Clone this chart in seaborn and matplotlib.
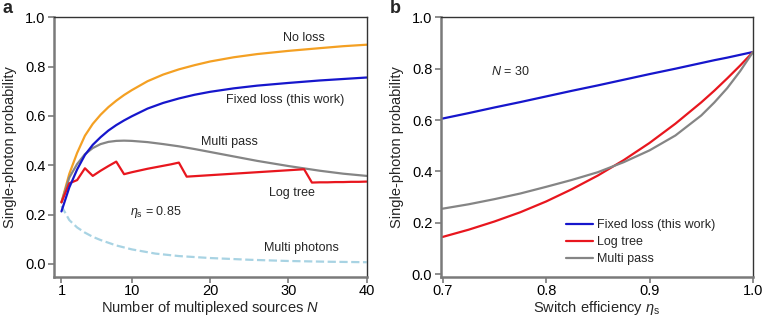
import numpy as np
import pandas as pd
import matplotlib
matplotlib.use("Agg")
import matplotlib.pyplot as plt
import seaborn as sns

# ---------------- data: panel a ----------------
N_smooth = [1, 2, 3, 4, 5, 6, 7, 8, 9, 10, 12, 14, 16, 18, 20, 23, 26, 30, 34, 37, 40]
no_loss = [0.25, 0.365, 0.45, 0.52, 0.568, 0.605, 0.636, 0.662, 0.685, 0.705, 0.741,
           0.768, 0.789, 0.806, 0.821, 0.838, 0.851, 0.864, 0.875, 0.883, 0.889]
fixed_loss = [0.213, 0.31, 0.383, 0.442, 0.483, 0.514, 0.541, 0.563, 0.582, 0.599, 0.63,
              0.653, 0.671, 0.686, 0.698, 0.712, 0.723, 0.734, 0.744, 0.75, 0.756]
multi_pass = [0.25, 0.35, 0.405, 0.445, 0.47, 0.486, 0.495, 0.499, 0.50, 0.499, 0.494,
              0.486, 0.477, 0.466, 0.454, 0.436, 0.418, 0.397, 0.378, 0.366, 0.357]

N_tree = list(range(1, 41))
log_tree = [0.25, 0.327, 0.34, 0.388, 0.357, 0.378, 0.397, 0.415, 0.364, 0.372,
            0.379, 0.386, 0.392, 0.398, 0.404, 0.411, 0.354, 0.356, 0.358, 0.36,
            0.362, 0.364, 0.366, 0.368, 0.37, 0.372, 0.374, 0.376, 0.378, 0.38,
            0.382, 0.384, 0.330, 0.331, 0.331, 0.332, 0.332, 0.333, 0.333, 0.334]

N_multi = [1, 2, 3, 4, 5, 6, 8, 10, 13, 16, 20, 25, 30, 35, 40]
multi_photons = [0.235, 0.178, 0.148, 0.127, 0.11, 0.097, 0.075, 0.059, 0.042, 0.032,
                 0.024, 0.017, 0.012, 0.009, 0.007]

# ---------------- data: panel b ----------------
eta = [0.70, 0.725, 0.75, 0.775, 0.80, 0.825, 0.85, 0.875, 0.90, 0.925, 0.95, 0.9625,
       0.975, 0.9875, 1.0]
b_fixed = [0.606, 0.627, 0.649, 0.670, 0.692, 0.714, 0.735, 0.757, 0.779, 0.800, 0.822,
           0.833, 0.843, 0.854, 0.865]
b_logtree = [0.145, 0.173, 0.205, 0.241, 0.283, 0.331, 0.384, 0.444, 0.511, 0.586, 0.669,
             0.714, 0.762, 0.812, 0.865]
b_multipass = [0.255, 0.272, 0.292, 0.314, 0.34, 0.367, 0.397, 0.436, 0.482, 0.54, 0.618,
               0.668, 0.724, 0.79, 0.865]

x_ticks_a = [1, 10, 20, 30, 40]
y_ticks = [0.0, 0.2, 0.4, 0.6, 0.8, 1.0]
x_ticks_b = [0.7, 0.8, 0.9, 1.0]

# ---------------- style ----------------
sns.set_style("white")
plt.rcParams['font.family'] = ['Liberation Sans', 'DejaVu Sans']
plt.rcParams['mathtext.fontset'] = 'custom'
plt.rcParams['mathtext.rm'] = 'Liberation Sans'
plt.rcParams['mathtext.it'] = 'Liberation Sans:italic'

C_ORANGE = '#F4A023'
C_BLUE = '#1616CC'
C_RED = '#E8161E'
C_GRAY = '#858585'
C_LBLUE = '#A8D3E3'
SPINE_GRAY = '#7a7a7a'
LW = 1.6

fig = plt.figure(figsize=(7.64, 3.21), dpi=100)
axa = fig.add_axes([0.0707, 0.137, 0.4093, 0.809])
axb = fig.add_axes([0.5768, 0.138, 0.4088, 0.808])


def style_axes(ax):
    for s in ['left', 'bottom']:
        ax.spines[s].set_color(SPINE_GRAY)
        ax.spines[s].set_linewidth(1.8)
    for s in ['top', 'right']:
        ax.spines[s].set_color('#333333')
        ax.spines[s].set_linewidth(1.0)
    ax.tick_params(axis='both', which='both', direction='out', length=4, width=1.2,
                   color=SPINE_GRAY, labelcolor='black', labelsize=10.5, pad=2,
                   bottom=True, left=True, top=False, right=False)
    ax.tick_params(axis='x', pad=1)
    ax.set_yticks(y_ticks)
    ax.set_yticklabels([f"{v:.1f}" for v in y_ticks])


# ---------------- panel a ----------------
df_smooth = pd.DataFrame({'N': N_smooth, 'no': no_loss, 'fixed': fixed_loss, 'mp': multi_pass})
df_tree = pd.DataFrame({'N': N_tree, 'tree': log_tree})
df_multi = pd.DataFrame({'N': N_multi, 'multi': multi_photons})

sns.lineplot(data=df_multi, x='N', y='multi', ax=axa, color=C_LBLUE, lw=LW, linestyle='--')
sns.lineplot(data=df_smooth, x='N', y='no', ax=axa, color=C_ORANGE, lw=LW)
sns.lineplot(data=df_smooth, x='N', y='mp', ax=axa, color=C_GRAY, lw=LW)
sns.lineplot(data=df_tree, x='N', y='tree', ax=axa, color=C_RED, lw=LW)
sns.lineplot(data=df_smooth, x='N', y='fixed', ax=axa, color=C_BLUE, lw=LW)

axa.set_xlim(0.05, 40)
axa.set_ylim(-0.053, 1.0)
axa.set_xticks(x_ticks_a)
axa.set_xticklabels([str(v) for v in x_ticks_a])
style_axes(axa)
axa.set_xlabel(r'Number of multiplexed sources $N$', fontsize=10.5, labelpad=1)
axa.set_ylabel('Single-photon probability', fontsize=10.5, labelpad=6)

fs_ann = 9
axa.text(32.0, 0.916, 'No loss', ha='center', va='center', fontsize=fs_ann)
axa.text(29.6, 0.665, 'Fixed loss (this work)', ha='center', va='center', fontsize=fs_ann)
axa.text(22.5, 0.496, 'Multi pass', ha='center', va='center', fontsize=fs_ann)
axa.text(30.5, 0.289, 'Log tree', ha='center', va='center', fontsize=fs_ann)
axa.text(9.8, 0.21, r'$\eta_\mathrm{s}$ = 0.85', ha='left', va='center', fontsize=fs_ann)
axa.text(31.6, 0.064, 'Multi photons', ha='center', va='center', fontsize=fs_ann)

# ---------------- panel b ----------------
df_b = pd.DataFrame({'eta': eta, 'fixed': b_fixed, 'tree': b_logtree, 'mp': b_multipass})
sns.lineplot(data=df_b, x='eta', y='fixed', ax=axb, color=C_BLUE, lw=LW, label='Fixed loss (this work)')
sns.lineplot(data=df_b, x='eta', y='tree', ax=axb, color=C_RED, lw=LW, label='Log tree')
sns.lineplot(data=df_b, x='eta', y='mp', ax=axb, color=C_GRAY, lw=LW, label='Multi pass')

axb.set_xlim(0.698, 1.0)
axb.set_ylim(-0.01, 1.0)
axb.set_xticks(x_ticks_b)
axb.set_xticklabels([f"{v:.1f}" for v in x_ticks_b])
style_axes(axb)
axb.set_xlabel(r'Switch efficiency $\eta_\mathrm{s}$', fontsize=10.5, labelpad=1)
axb.set_ylabel('Single-photon probability', fontsize=10.5, labelpad=6)
axb.text(0.747, 0.79, r'$N$ = 30', ha='left', va='center', fontsize=fs_ann)

leg = axb.legend(loc='upper left', bbox_to_anchor=(0.385, 0.24), frameon=False,
                 fontsize=fs_ann, handlelength=2.2, handletextpad=0.3, labelspacing=0.4,
                 borderaxespad=0.0)

fig.text(0.003, 0.975, 'a', fontsize=13, fontweight='bold', ha='left', va='center')
fig.text(0.510, 0.975, 'b', fontsize=13, fontweight='bold', ha='left', va='center')

fig.savefig('out.png', dpi=100)
